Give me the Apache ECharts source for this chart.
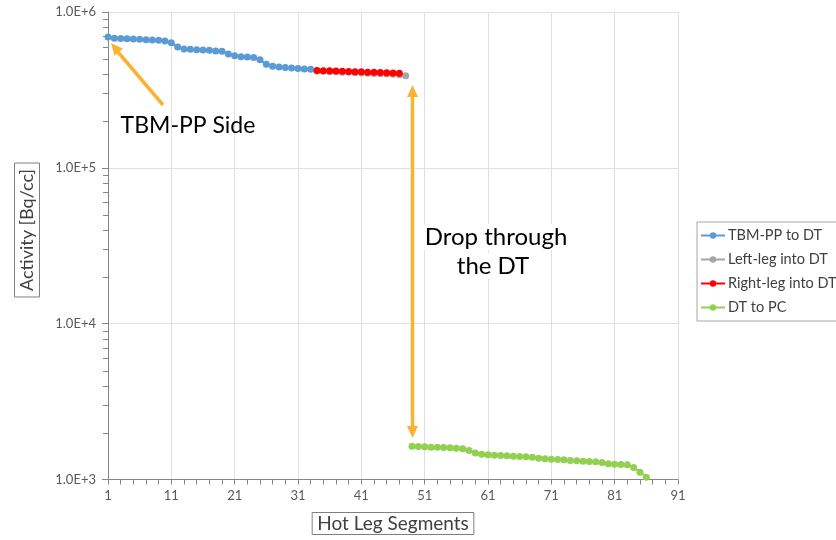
<!DOCTYPE html>
<html>
<head>
<meta charset="utf-8">
<script src="https://cdn.jsdelivr.net/npm/echarts@6/dist/echarts.min.js"></script>
<style>
  html, body { margin: 0; padding: 0; background: #fff; }
  #chart { width: 836px; height: 540px; }
</style>
</head>
<body>
<div id="chart"></div>
<script>
// hot leg segment numbers 1..91 (category axis)
var segments = [];
for (var i = 1; i <= 91; i++) segments.push(String(i));

// TBM-PP to DT : segments 1..33
var tbmStart = 1;
var tbmValues = [691000, 678000, 676000, 674000, 671000, 668000, 664000, 661000, 658000, 652000,
  636000, 597000, 579000, 576000, 573000, 570000, 568000, 562000, 560000, 538000,
  523000, 517000, 514000, 510000, 493000, 462000, 449000, 444000, 440000, 437000,
  434000, 431000, 429000];

// Left-leg into DT : segments 34..48
var leftStart = 34;
var leftValues = [418000, 416000, 414000, 413000, 411000, 410000, 408000, 406000, 405000, 403000,
  402000, 400000, 398000, 396000, 390000];

// Right-leg into DT : segments 34..47
var rightStart = 34;
var rightValues = [421000, 420000, 419000, 418000, 417000, 415000, 414000, 413000, 411000, 410000,
  409000, 407000, 406000, 405000];

// DT to PC : segments 49..86
var dtStart = 49;
var dtValues = [1636, 1627, 1620, 1612, 1612, 1604, 1596, 1588, 1573, 1534,
  1482, 1454, 1439, 1432, 1425, 1418, 1411, 1404, 1397, 1390,
  1370, 1357, 1350, 1343, 1337, 1324, 1317, 1311, 1304, 1298,
  1285, 1260, 1254, 1248, 1242, 1194, 1114, 1035];

// log-axis minor tick values (2..9 per decade)
var minorTickValues = [];
[1000, 10000, 100000].forEach(function (d) {
  for (var m = 2; m <= 9; m++) minorTickValues.push(d * m);
});

var FONT = 'Lato, "Open Sans", sans-serif';
var ORANGE = '#FAB232';

function toPairs(start, vals) {
  return vals.map(function (v, k) { return [String(start + k), v]; });
}

function lineSeries(name, color, start, vals) {
  return {
    name: name,
    type: 'line',
    data: toPairs(start, vals),
    symbol: 'circle',
    symbolSize: 7,
    showAllSymbol: true,
    lineStyle: { color: color, width: 2.25 },
    itemStyle: { color: color },
    emphasis: { disabled: true }
  };
}

// arrow helper for annotations (line + triangular head)
function arrowHead(tip, from) {
  var dx = tip[0] - from[0], dy = tip[1] - from[1];
  var len = Math.sqrt(dx * dx + dy * dy);
  var ux = dx / len, uy = dy / len;
  var hl = 12, hw = 5.5;
  var bx = tip[0] - ux * hl, by = tip[1] - uy * hl;
  return {
    type: 'polygon',
    shape: { points: [tip, [bx - uy * hw, by + ux * hw], [bx + uy * hw, by - ux * hw]] },
    style: { fill: ORANGE }
  };
}
function shaft(a, b) {
  return { type: 'line', shape: { x1: a[0], y1: a[1], x2: b[0], y2: b[1] }, style: { stroke: ORANGE, lineWidth: 3.5 } };
}

var chart = echarts.init(document.getElementById('chart'));
chart.setOption({
  animation: false,
  textStyle: { fontFamily: FONT },
  grid: { left: 108, right: 158, top: 12, bottom: 60 },
  legend: {
    orient: 'vertical',
    left: 697,
    top: 222,
    itemWidth: 24,
    itemHeight: 8,
    itemGap: 9,
    padding: [6, 4, 6, 3],
    borderColor: '#a6a6a6',
    borderWidth: 1,
    textStyle: { fontFamily: FONT, fontSize: 14.5, color: '#404040', padding: [0, 0, 0, -2] },
    data: ['TBM-PP to DT', 'Left-leg into DT', 'Right-leg into DT', 'DT to PC']
  },
  xAxis: {
    type: 'category',
    data: segments,
    boundaryGap: false,
    name: 'Hot Leg Segments',
    nameLocation: 'middle',
    nameGap: 33,
    nameTextStyle: {
      fontFamily: FONT, fontSize: 19, color: '#404040',
      borderColor: '#7f7f7f', borderWidth: 1, padding: [2, 5, 1, 5]
    },
    axisLine: { lineStyle: { color: '#868686', width: 1 } },
    axisTick: { show: true, interval: 1, length: 5, lineStyle: { color: '#868686' } },
    axisLabel: { interval: 9, color: '#595959', fontSize: 13, margin: 10 },
    splitLine: { show: true, interval: 9, lineStyle: { color: '#e0e0e0' } }
  },
  yAxis: {
    type: 'log',
    logBase: 10,
    min: 1000,
    max: 1000000,
    axisLine: { show: true, lineStyle: { color: '#868686' } },
    axisTick: { show: true, length: 6, lineStyle: { color: '#868686' } },
    axisLabel: {
      color: '#595959', fontSize: 13, margin: 12,
      formatter: function (v) { return '1.0E+' + Math.round(Math.log10(v)); }
    },
    splitLine: { show: true, lineStyle: { color: '#e0e0e0' } }
  },
  series: [
    lineSeries('TBM-PP to DT', '#5B9BD5', tbmStart, tbmValues),
    lineSeries('Left-leg into DT', '#A5A5A5', leftStart, leftValues),
    lineSeries('Right-leg into DT', '#FF0000', rightStart, rightValues),
    lineSeries('DT to PC', '#92D050', dtStart, dtValues)
  ]
});

// annotations, plus log minor ticks placed through the axis scale
var axisX = chart.convertToPixel({ xAxisIndex: 0 }, '1');
var graphics = minorTickValues.map(function (v) {
  var py = Math.round(chart.convertToPixel({ yAxisIndex: 0 }, v)) + 0.5;
  return { type: 'line', silent: true, shape: { x1: axisX - 5, y1: py, x2: axisX, y2: py }, style: { stroke: '#868686', lineWidth: 1 } };
});
graphics.push(
  {
    type: 'text', x: 27, y: 230, rotation: Math.PI / 2,
    style: {
      text: 'Activity [Bq/cc]', font: '18px ' + FONT, fill: '#404040',
      align: 'center', verticalAlign: 'middle',
      borderColor: '#7f7f7f', borderWidth: 1, padding: [4, 6, 3, 6]
    }
  },
  { type: 'text', x: 188, y: 126, style: { text: 'TBM-PP Side', font: '23px ' + FONT, fill: '#000', align: 'center', verticalAlign: 'middle' } },
  { type: 'text', x: 496, y: 237, style: { text: 'Drop through', font: '24px ' + FONT, fill: '#000', align: 'center', verticalAlign: 'middle', backgroundColor: '#fff', padding: [1, 2] } },
  { type: 'text', x: 493, y: 266, style: { text: 'the DT', font: '24px ' + FONT, fill: '#000', align: 'center', verticalAlign: 'middle', backgroundColor: '#fff', padding: [1, 2] } },
  shaft([163, 105], [118, 52]),
  arrowHead([111, 43], [163, 105]),
  shaft([412.5, 96], [412.5, 427]),
  arrowHead([412.5, 85], [412.5, 200]),
  arrowHead([412.5, 438], [412.5, 200])
);
chart.setOption({ graphic: graphics });
</script>
</body>
</html>
